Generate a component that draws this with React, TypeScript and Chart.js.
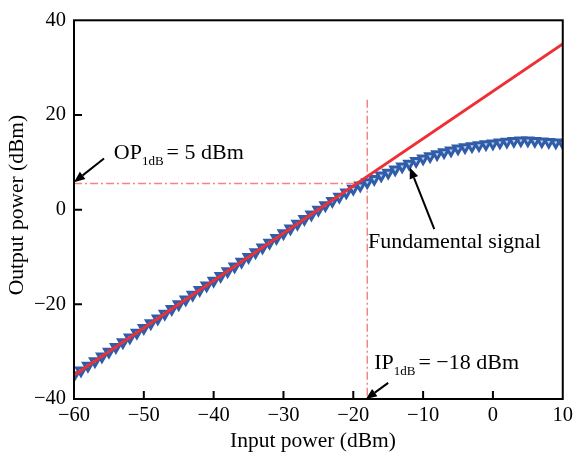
import { useEffect, useRef } from "react";
import { Chart, registerables } from "chart.js";

Chart.register(...registerables);

// Input power sweep (dBm)
const inputPower = [
  -60, -59, -58, -57, -56, -55, -54, -53, -52, -51, -50, -49, -48, -47, -46, -45, -44, -43,
  -42, -41, -40, -39, -38, -37, -36, -35, -34, -33, -32, -31, -30, -29, -28, -27, -26, -25,
  -24, -23, -22, -21, -20, -19, -18, -17, -16, -15, -14, -13, -12, -11, -10, -9, -8, -7,
  -6, -5, -4, -3, -2, -1, 0, 1, 2, 3, 4, 5, 6, 7, 8, 9, 10,
];
// Fundamental signal output power (dBm)
const fundamentalOut = [
  -35, -34, -33, -32, -31, -30, -29, -28, -27, -26, -25, -24, -23, -22, -21, -20, -19, -18,
  -17, -16, -15, -14, -13, -12, -11, -10, -9, -8, -7, -6, -5, -4, -3, -2, -1, 0,
  0.95, 1.85, 2.75, 3.6, 4.4, 5.1, 5.8, 6.5, 7.2, 7.8, 8.5, 9.1, 9.7, 10.3, 10.8, 11.3, 11.7, 12.1,
  12.5, 12.9, 13.2, 13.4, 13.6, 13.8, 14.0, 14.2, 14.35, 14.5, 14.6, 14.6, 14.5, 14.4, 14.3, 14.2, 14.1,
];
// Ideal linear response
const idealIn = [-60, 10];
const idealOut = [-35, 35];
// 1 dB compression point guides
const ip1dB = -18;
const op1dBLevel = 5.5;
const vGuideTop = 23.2;

const xTicks = [-60, -50, -40, -30, -20, -10, 0, 10];
const yTicks = [-40, -20, 0, 20, 40];

const FONT = '"Liberation Serif", "Times New Roman", serif';
const BLUE = "#2f5daa";
const RED = "#ee2f36";
const GUIDE = "rgba(240,110,110,0.85)";

const minus = (s: string) => s.replace(/-/g, "\u2212");

export default function App() {
  const ref = useRef<HTMLCanvasElement | null>(null);

  useEffect(() => {
    const canvas = ref.current;
    if (!canvas) return;

    const decor = {
      id: "decor",
      afterDraw(chart: any) {
        const ctx = chart.ctx;
        const { left, right, top, bottom } = chart.chartArea;
        const xs = chart.scales.x;
        const ys = chart.scales.y;
        ctx.save();
        // frame
        ctx.strokeStyle = "#000";
        ctx.lineWidth = 2;
        ctx.strokeRect(left, top, right - left, bottom - top);
        // inward ticks
        ctx.beginPath();
        for (const v of xTicks) {
          if (v === xTicks[0] || v === xTicks[xTicks.length - 1]) continue;
          const px = xs.getPixelForValue(v);
          ctx.moveTo(px, bottom);
          ctx.lineTo(px, bottom - 8);
        }
        for (const v of yTicks) {
          if (v === yTicks[0] || v === yTicks[yTicks.length - 1]) continue;
          const py = ys.getPixelForValue(v);
          ctx.moveTo(left, py);
          ctx.lineTo(left + 8, py);
        }
        ctx.stroke();

        // axis titles
        ctx.fillStyle = "#000";
        ctx.font = `21.5px ${FONT}`;
        ctx.textAlign = "center";
        ctx.textBaseline = "middle";
        ctx.fillText("Input power (dBm)", 313, 441);
        ctx.save();
        ctx.translate(17, 205);
        ctx.rotate(-Math.PI / 2);
        ctx.fillText("Output power (dBm)", 0, 0);
        ctx.restore();

        // annotations
        const P = (x: number, y: number) => [xs.getPixelForValue(x), ys.getPixelForValue(y)];
        const sub = (x: number, y: number, main: string, s: string, rest: string) => {
          const [px, py] = P(x, y);
          ctx.textAlign = "left";
          ctx.textBaseline = "alphabetic";
          ctx.font = `22px ${FONT}`;
          ctx.fillText(main, px, py);
          let cx = px + ctx.measureText(main).width;
          ctx.font = `13px ${FONT}`;
          ctx.fillText(s, cx, py + 6);
          cx += ctx.measureText(s).width + 3;
          ctx.font = `22px ${FONT}`;
          ctx.fillText(rest, cx, py);
        };
        const arrow = (x1: number, y1: number, x2: number, y2: number) => {
          const [ax, ay] = P(x1, y1);
          const [bx, by] = P(x2, y2);
          const ang = Math.atan2(by - ay, bx - ax);
          const hl = 11;
          const hw = 4.5;
          const ex = bx - hl * Math.cos(ang);
          const ey = by - hl * Math.sin(ang);
          ctx.strokeStyle = "#000";
          ctx.lineWidth = 2;
          ctx.beginPath();
          ctx.moveTo(ax, ay);
          ctx.lineTo(ex, ey);
          ctx.stroke();
          ctx.fillStyle = "#000";
          ctx.beginPath();
          ctx.moveTo(bx, by);
          ctx.lineTo(ex + hw * Math.sin(ang), ey - hw * Math.cos(ang));
          ctx.lineTo(ex - hw * Math.sin(ang), ey + hw * Math.cos(ang));
          ctx.closePath();
          ctx.fill();
        };

        sub(-54.3, 10.6, "OP", "1dB", "= 5 dBm");
        arrow(-55.7, 10.8, -60, 5.8);

        ctx.font = `22px ${FONT}`;
        ctx.textAlign = "left";
        ctx.textBaseline = "alphabetic";
        const [fx, fy] = P(-17.9, -8.1);
        ctx.fillText("Fundamental signal", fx, fy);
        arrow(-8.4, -4.1, -11.9, 8.9);

        sub(-17.0, -33.7, "IP", "1dB", "= \u221218 dBm");
        arrow(-15.0, -36.6, -18.2, -40);

        ctx.restore();
      },
    };

    const chart = new Chart(canvas, {
      type: "scatter",
      data: {
        datasets: [
          {
            label: "Ideal",
            data: idealIn.map((x, i) => ({ x, y: idealOut[i] })),
            showLine: true,
            borderColor: RED,
            borderWidth: 3,
            pointRadius: 0,
          },
          {
            label: "Fundamental signal",
            data: inputPower.map((x, i) => ({ x, y: fundamentalOut[i] })),
            showLine: true,
            borderColor: BLUE,
            borderWidth: 3,
            pointStyle: "triangle",
            pointRotation: 180,
            pointRadius: 5,
            pointBorderWidth: 3,
            pointBorderColor: BLUE,
            pointBackgroundColor: "rgba(255,255,255,0.7)",
          },
          {
            label: "IP guide",
            data: [
              { x: ip1dB, y: vGuideTop },
              { x: ip1dB, y: -40 },
            ],
            showLine: true,
            borderColor: GUIDE,
            borderWidth: 1.5,
            borderDash: [8, 3, 2, 3],
            pointRadius: 0,
          },
          {
            label: "OP guide",
            data: [
              { x: -60, y: op1dBLevel },
              { x: ip1dB, y: op1dBLevel },
            ],
            showLine: true,
            borderColor: GUIDE,
            borderWidth: 1.5,
            borderDash: [8, 3, 2, 3],
            pointRadius: 0,
          },
        ],
      },
      options: {
        responsive: false,
        animation: false,
        events: [],
        layout: { padding: { left: 0, top: 18, right: 11, bottom: 0 } },
        plugins: { legend: { display: false }, tooltip: { enabled: false } },
        scales: {
          x: {
            type: "linear",
            min: -60,
            max: 10,
            afterBuildTicks: (s: any) => {
              s.ticks = xTicks.map((v) => ({ value: v }));
            },
            afterFit: (s: any) => {
              s.height = 57;
            },
            grid: { display: false, drawTicks: false },
            border: { display: false },
            ticks: {
              padding: 4,
              color: "#000",
              font: { family: FONT, size: 20.5 },
              callback: (v: any) => minus(String(v)),
              maxRotation: 0,
              autoSkip: false,
            },
          },
          y: {
            type: "linear",
            min: -40,
            max: 40,
            afterBuildTicks: (s: any) => {
              s.ticks = yTicks.map((v) => ({ value: v }));
            },
            afterFit: (s: any) => {
              s.width = 74;
            },
            grid: { display: false, drawTicks: false },
            border: { display: false },
            ticks: {
              padding: 8,
              color: "#000",
              font: { family: FONT, size: 20.5 },
              callback: (v: any) => minus(String(v)),
              autoSkip: false,
            },
          },
        },
      },
      plugins: [decor],
    } as any);

    return () => chart.destroy();
  }, []);

  return (
    <div style={{ position: "fixed", left: 0, top: 0, width: 577, height: 456, background: "#fff" }}>
      <canvas ref={ref} width={577} height={456} style={{ display: "block" }} />
    </div>
  );
}
